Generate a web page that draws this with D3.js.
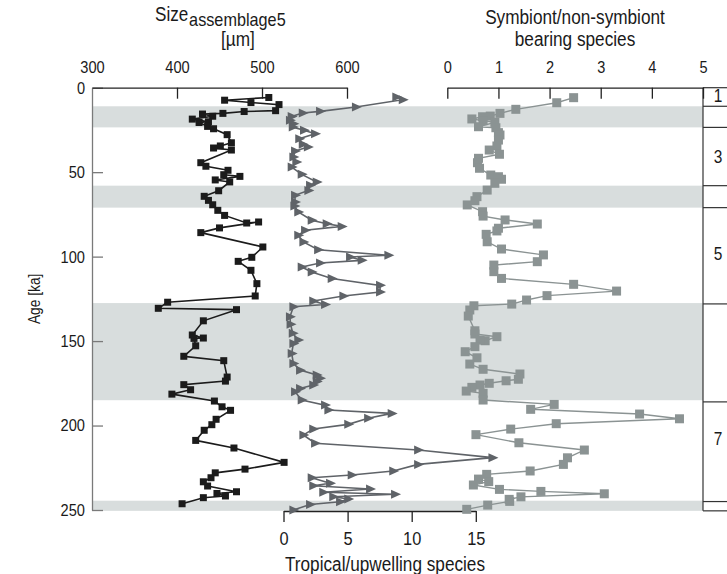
<!DOCTYPE html>
<html>
<head>
<meta charset="utf-8">
<script src="https://cdn.jsdelivr.net/npm/d3@7"></script>
<style>
  html, body { margin: 0; padding: 0; background: #fff; }
  svg { display: block; }
  text { font-family: "Liberation Sans", Arial, Helvetica, sans-serif; fill: #1a1a1a; }
</style>
</head>
<body>
<svg id="chart" width="727" height="574"></svg>
<script>
// Mean test size of assemblage 5 (µm) against age (ka)
const sizeAge = [5.8, 7.4, 8.8, 10.0, 13.6, 14.1, 15.2, 15.6, 16.9, 18.6, 20.2, 20.6, 22.9, 24.3, 27.8, 32.6, 34.5, 35.7, 36.9, 44.4, 46.5, 48.9, 51.5, 52.5, 54.6, 55.8, 61.0, 64.3, 66.7, 69.3, 72.6, 75.6, 80.1, 79.5, 83.0, 85.8, 94.3, 100.4, 102.8, 108.1, 116.0, 123.3, 127.0, 130.6, 131.4, 138.0, 146.4, 148.2, 148.4, 152.8, 159.0, 161.6, 171.3, 173.7, 175.8, 178.8, 181.4, 185.5, 188.9, 191.0, 196.3, 199.5, 202.8, 208.8, 213.3, 221.8, 225.8, 228.0, 230.9, 233.3, 235.8, 239.2, 240.2, 241.7, 242.7, 246.3];
const sizeValue = [508, 456, 487, 520, 516, 479, 454, 430, 442, 418, 437, 426, 436, 443, 459, 464, 451, 443, 464, 428, 434, 460, 455, 474, 445, 462, 449, 432, 437, 442, 448, 456, 482, 496, 450, 428, 501, 488, 472, 487, 494, 492, 389, 378, 470, 431, 418, 431, 420, 422, 408, 455, 459, 457, 408, 416, 394, 444, 453, 463, 446, 441, 432, 422, 467, 526, 480, 445, 440, 431, 436, 470, 447, 457, 431, 406];

// Tropical / upwelling species ratio
const tropAge = [5.5, 7.1, 11.4, 14.0, 15.0, 17.0, 19.3, 21.3, 23.3, 25.2, 27.2, 30.2, 33.5, 35.1, 37.5, 41.0, 44.0, 47.0, 51.3, 55.8, 57.8, 60.8, 63.7, 67.7, 70.0, 73.6, 78.5, 80.5, 82.1, 84.4, 87.4, 91.3, 95.9, 99.2, 100.2, 102.2, 103.8, 106.2, 109.1, 113.0, 117.0, 121.0, 123.3, 126.3, 128.3, 129.7, 135.6, 140.0, 145.4, 149.4, 151.4, 157.3, 163.2, 167.2, 170.1, 172.0, 174.0, 176.0, 178.0, 180.0, 184.9, 187.9, 190.8, 192.8, 195.7, 199.3, 202.0, 205.6, 210.5, 214.5, 219.0, 223.0, 226.9, 229.3, 230.9, 234.2, 235.6, 237.6, 239.5, 240.7, 242.2, 243.5, 245.1, 246.7, 250.0];
const tropValue = [8.8, 9.3, 5.65, 2.85, 1.5, 0.64, 0.5, 0.77, 0.72, 1.6, 2.46, 1.23, 1.5, 1.9, 0.9, 0.77, 1.0, 0.64, 1.42, 2.59, 2.07, 1.94, 0.9, 0.9, 0.85, 1.15, 2.2, 3.37, 4.54, 1.68, 1.15, 1.55, 2.7, 8.18, 5.19, 6.1, 2.85, 1.42, 2.2, 3.76, 7.53, 7.53, 4.67, 2.32, 3.24, 0.77, 0.5, 0.55, 0.72, 1.15, 0.77, 0.64, 0.77, 1.29, 2.59, 2.85, 2.6, 2.32, 1.29, 0.9, 1.42, 3.24, 3.5, 8.44, 6.6, 5.05, 2.32, 1.55, 2.46, 10.5, 16.3, 10.5, 8.56, 5.32, 2.2, 3.63, 2.32, 6.75, 3.1, 8.7, 3.88, 5.05, 4.41, 2.07, 0.77];

// Symbiont / non-symbiont bearing species ratio
const symAge = [5.9, 8.9, 12.8, 15.2, 16.8, 17.2, 18.5, 19.5, 20.5, 23.1, 23.7, 26.6, 28.0, 31.0, 34.5, 36.9, 39.4, 41.8, 44.4, 47.7, 51.7, 52.7, 54.2, 56.6, 60.6, 64.5, 66.9, 69.4, 73.4, 76.0, 78.3, 80.7, 83.2, 84.8, 86.8, 91.2, 95.5, 99.0, 103.0, 105.0, 108.9, 112.9, 116.4, 120.4, 123.1, 125.7, 128.1, 129.1, 131.6, 135.2, 143.9, 145.8, 147.4, 149.8, 149.4, 153.3, 156.3, 159.9, 163.6, 166.7, 169.5, 172.6, 173.5, 175.0, 176.0, 177.4, 179.6, 180.9, 184.9, 187.5, 190.4, 193.2, 196.0, 198.9, 202.1, 205.4, 210.2, 214.5, 219.1, 223.0, 226.9, 228.9, 231.7, 233.2, 235.2, 237.8, 239.0, 240.4, 242.2, 243.7, 244.9, 247.1, 249.6];
const symValue = [2.47, 2.14, 1.34, 1.03, 0.84, 0.69, 0.48, 0.7, 0.93, 0.61, 0.95, 1.0, 1.03, 1.0, 0.97, 0.82, 1.02, 0.61, 0.59, 0.63, 0.85, 1.0, 1.06, 0.93, 0.78, 0.58, 0.54, 0.39, 0.69, 0.7, 1.13, 1.76, 1.0, 0.97, 0.76, 0.78, 1.06, 1.88, 1.76, 0.91, 0.91, 1.06, 2.47, 3.31, 1.95, 1.55, 1.26, 0.52, 0.44, 0.41, 0.54, 0.54, 0.97, 0.74, 0.64, 0.54, 0.35, 0.58, 0.44, 0.7, 1.42, 1.39, 1.15, 0.82, 0.64, 0.48, 0.37, 0.7, 0.7, 2.09, 1.63, 3.76, 4.54, 2.13, 1.24, 0.56, 1.4, 2.68, 2.35, 2.27, 1.62, 0.77, 0.61, 0.81, 0.51, 1.02, 1.83, 3.07, 1.44, 1.21, 1.22, 0.79, 0.38];

// Glacial intervals (shaded) and marine isotope stage boundaries, ka
const bandStart = [11, 58, 127.5, 244.5];
const bandEnd = [23.5, 71, 185, 250.5];
const misBoundary = [0, 11, 23.5, 58, 71, 128, 186, 245, 250.5];
const misLabel = ["1", "3", "5", "7"];
const misLabelAge = [4.5, 41, 98, 207.5];

// Tick values
const ageTicks = [0, 50, 100, 150, 200, 250];
const sizeTicks = [300, 400, 500, 600];
const symTicks = [0, 1, 2, 3, 4, 5];
const tropTicks = [0, 5, 10, 15];

const svg = d3.select("#chart");

const y = d3.scaleLinear().domain([0, 250]).range([87.7, 510]);
const xSize = d3.scaleLinear().domain([300, 600]).range([92, 347]);
const xSym = d3.scaleLinear().domain([0, 5]).range([447.3, 703]);
const xTrop = d3.scaleLinear().domain([0, 15]).range([283.5, 475.8]);

// Shaded glacial bands
svg.append("g").selectAll("rect")
  .data(d3.range(bandStart.length))
  .join("rect")
  .attr("x", 92)
  .attr("width", 703 - 92)
  .attr("y", i => y(bandStart[i]))
  .attr("height", i => y(bandEnd[i]) - y(bandStart[i]))
  .attr("fill", "#d8dddd");

// Isotope stage column
const mis = svg.append("g").attr("stroke", "#333").attr("stroke-width", 1.2);
mis.append("line").attr("x1", 703).attr("x2", 703).attr("y1", y(0)).attr("y2", y(250.5));
mis.selectAll("line.b")
  .data(misBoundary)
  .join("line")
  .attr("class", "b")
  .attr("x1", 703).attr("x2", 727)
  .attr("y1", d => y(d)).attr("y2", d => y(d));
svg.append("g").selectAll("text")
  .data(misLabel)
  .join("text")
  .attr("x", 718)
  .attr("y", (d, i) => y(misLabelAge[i]))
  .attr("dy", "0.36em")
  .attr("text-anchor", "middle")
  .attr("font-size", 18)
  .attr("fill", "#333")
  .text(d => d);

function styleAxis(g, color, fs) {
  g.selectAll("path, line").attr("stroke", color).attr("stroke-width", 1.3);
  g.selectAll("text").attr("font-size", fs).attr("fill", "#1a1a1a")
    .style("font-family", "\"Liberation Sans\", Arial, Helvetica, sans-serif");
}

// Age axis
svg.append("g")
  .attr("transform", "translate(92,0)")
  .call(d3.axisLeft(y).tickValues(ageTicks).tickSizeInner(-11).tickSizeOuter(0).tickPadding(7))
  .call(g => styleAxis(g, "#7a7a7a", 17));

// Size axis (top)
svg.append("g")
  .attr("transform", `translate(0,${y(0)})`)
  .call(d3.axisTop(xSize).tickValues(sizeTicks).tickSizeInner(-11).tickSizeOuter(0).tickPadding(15))
  .call(g => styleAxis(g, "#222", 17))
  .call(g => g.selectAll(".tick line").filter(d => d === 300).remove());

// Symbiont axis (top)
svg.append("g")
  .attr("transform", `translate(0,${y(0)})`)
  .call(d3.axisTop(xSym).tickValues(symTicks).tickFormat(d3.format("d")).tickSizeInner(-11).tickSizeOuter(0).tickPadding(15))
  .call(g => styleAxis(g, "#222", 17));

// Tropical/upwelling axis (bottom)
svg.append("g")
  .attr("transform", `translate(0,${y(250) + 1})`)
  .call(d3.axisBottom(xTrop).tickValues(tropTicks).tickSizeInner(11).tickSizeOuter(0).tickPadding(10))
  .call(g => styleAxis(g, "#222", 19));

// Series: size
const sizeIdx = d3.range(sizeAge.length);
svg.append("path")
  .attr("d", d3.line().x(i => xSize(sizeValue[i])).y(i => y(sizeAge[i]))(sizeIdx))
  .attr("fill", "none").attr("stroke", "#1b1b1b").attr("stroke-width", 1.6);
svg.append("g").selectAll("rect")
  .data(sizeIdx).join("rect")
  .attr("x", i => xSize(sizeValue[i]) - 3.5)
  .attr("y", i => y(sizeAge[i]) - 3.5)
  .attr("width", 7).attr("height", 7)
  .attr("fill", "#1b1b1b");

// Series: tropical/upwelling
const tropIdx = d3.range(tropAge.length);
svg.append("path")
  .attr("d", d3.line().x(i => xTrop(tropValue[i])).y(i => y(tropAge[i]))(tropIdx))
  .attr("fill", "none").attr("stroke", "#5f6368").attr("stroke-width", 1.6);
svg.append("g").selectAll("path")
  .data(tropIdx).join("path")
  .attr("d", "M-4,-4.5L6,0L-4,4.5Z")
  .attr("transform", i => `translate(${xTrop(tropValue[i])},${y(tropAge[i])})`)
  .attr("fill", "#5f6368");

// Series: symbiont ratio
const symIdx = d3.range(symAge.length);
svg.append("path")
  .attr("d", d3.line().x(i => xSym(symValue[i])).y(i => y(symAge[i]))(symIdx))
  .attr("fill", "none").attr("stroke", "#8b9393").attr("stroke-width", 1.4);
svg.append("g").selectAll("rect")
  .data(symIdx).join("rect")
  .attr("x", i => xSym(symValue[i]) - 4.5)
  .attr("y", i => y(symAge[i]) - 4.5)
  .attr("width", 9).attr("height", 9)
  .attr("fill", "#8b9393");

// Titles: "Size" with a subscript label
const sizeTitle = svg.append("text").attr("x", 155).attr("y", 21).attr("font-size", 20);
sizeTitle.append("tspan").text("Size");
sizeTitle.append("tspan").attr("dx", 1).attr("dy", 5).attr("font-size", 19).text("assemblage5");
svg.append("text").attr("x", 238).attr("y", 46).attr("text-anchor", "middle").attr("font-size", 20).text("[µm]");

svg.append("text").attr("x", 575).attr("y", 24).attr("text-anchor", "middle").attr("font-size", 20).text("Symbiont/non-symbiont");
svg.append("text").attr("x", 575).attr("y", 46).attr("text-anchor", "middle").attr("font-size", 20).text("bearing species");

svg.append("text").attr("x", 385).attr("y", 571).attr("text-anchor", "middle").attr("font-size", 20).text("Tropical/upwelling species");

svg.append("text")
  .attr("transform", `translate(40,${y(125)}) rotate(-90)`)
  .attr("text-anchor", "middle")
  .attr("font-size", 16)
  .text("Age [ka]");

// Condensed lettering: narrow every label horizontally
const narrow = 0.86;
svg.selectAll("text").each(function() {
  const len = this.getComputedTextLength();
  this.setAttribute("textLength", (len * narrow).toFixed(1));
  this.setAttribute("lengthAdjust", "spacingAndGlyphs");
});
</script>
</body>
</html>
